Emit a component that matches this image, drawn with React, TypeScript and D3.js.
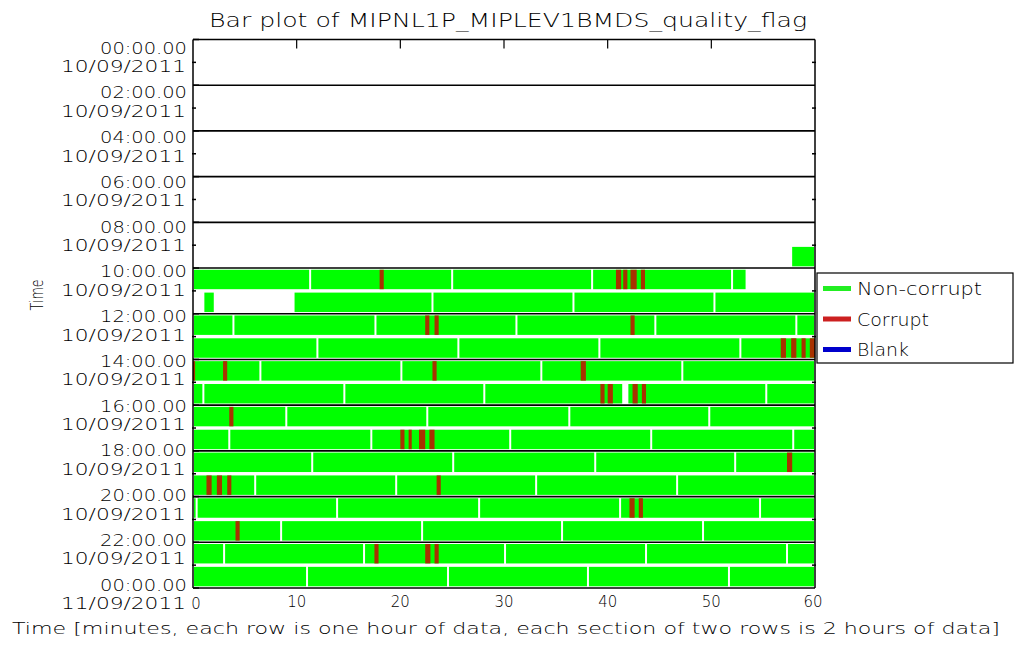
import React from "react";
import * as d3 from "d3";

const title = "Bar plot of MIPNL1P_MIPLEV1BMDS_quality_flag";
const xAxisTitle =
  "Time [minutes, each row is one hour of data, each section of two rows is 2 hours of data]";
const yAxisTitle = "Time";

const xTicks = [0, 10, 20, 30, 40, 50, 60];
const yTickTimes = [
  "00:00.00", "02:00.00", "04:00.00", "06:00.00", "08:00.00", "10:00.00",
  "12:00.00", "14:00.00", "16:00.00", "18:00.00", "20:00.00", "22:00.00", "00:00.00",
];
const yTickDates = [
  "10/09/2011", "10/09/2011", "10/09/2011", "10/09/2011", "10/09/2011", "10/09/2011",
  "10/09/2011", "10/09/2011", "10/09/2011", "10/09/2011", "10/09/2011", "10/09/2011", "11/09/2011",
];

// [hour row, start minute, end minute] : non-corrupt data granules
const nonCorrupt: [number, number, number][] = [
  [9, 57.7, 60],
  [10, 0, 11.3], [10, 11.3, 25.0], [10, 25.0, 38.5], [10, 38.5, 52.0], [10, 52.0, 53.4],
  [11, 1.0, 2.1], [11, 9.7, 23.1], [11, 23.1, 36.7], [11, 36.7, 50.3], [11, 50.3, 60],
  [12, 0, 3.9], [12, 3.9, 17.6], [12, 17.6, 31.2], [12, 31.2, 44.6], [12, 44.6, 58.2], [12, 58.2, 60],
  [13, 0, 12.0], [13, 12.0, 25.6], [13, 25.6, 39.2], [13, 39.2, 52.8], [13, 52.8, 60],
  [14, 0, 6.5], [14, 6.5, 20.1], [14, 20.1, 33.6], [14, 33.6, 47.2], [14, 47.2, 60],
  [15, 0, 1.0], [15, 1.0, 14.6], [15, 14.6, 28.1], [15, 28.1, 41.5], [15, 41.9, 55.3], [15, 55.3, 60],
  [16, 0, 9.0], [16, 9.0, 22.6], [16, 22.6, 36.3], [16, 36.3, 49.8], [16, 49.8, 60],
  [17, 0, 3.5], [17, 3.5, 17.2], [17, 17.2, 30.6], [17, 30.6, 44.2], [17, 44.2, 57.9], [17, 57.9, 60],
  [18, 0, 11.5], [18, 11.5, 25.1], [18, 25.1, 38.8], [18, 38.8, 52.3], [18, 52.3, 60],
  [19, 0, 6.0], [19, 6.0, 19.6], [19, 19.6, 33.1], [19, 33.1, 46.7], [19, 46.7, 60],
  [20, 0, 0.35], [20, 0.35, 13.9], [20, 13.9, 27.6], [20, 27.6, 41.2], [20, 41.2, 54.7], [20, 54.7, 60],
  [21, 0, 8.5], [21, 8.5, 22.1], [21, 22.1, 35.6], [21, 35.6, 49.2], [21, 49.2, 60],
  [22, 0, 3.0], [22, 3.0, 16.5], [22, 16.5, 30.1], [22, 30.1, 43.7], [22, 43.7, 57.3], [22, 57.3, 60],
  [23, 0, 11.0], [23, 11.0, 24.6], [23, 24.6, 38.1], [23, 38.1, 51.7], [23, 51.7, 60],
];

// [hour row, start minute, end minute] : corrupt records
const corrupt: [number, number, number][] = [
  [10, 18.0, 18.4], [10, 40.8, 41.3], [10, 41.5, 41.9], [10, 42.2, 42.8], [10, 43.2, 43.6],
  [12, 22.4, 22.8], [12, 23.3, 23.7], [12, 42.2, 42.6],
  [13, 56.7, 57.2], [13, 57.7, 58.2], [13, 58.7, 59.1], [13, 59.5, 60],
  [14, 0, 0.2], [14, 2.9, 3.3], [14, 23.1, 23.5], [14, 37.4, 37.9],
  [15, 39.3, 39.7], [15, 40.0, 40.5], [15, 42.4, 42.9], [15, 43.3, 43.7],
  [16, 3.5, 3.9],
  [17, 20.0, 20.4], [17, 20.8, 21.1], [17, 21.8, 22.4], [17, 22.8, 23.3],
  [18, 57.3, 57.8],
  [19, 1.3, 1.8], [19, 2.3, 2.8], [19, 3.3, 3.7], [19, 23.5, 23.9],
  [20, 42.1, 42.6], [20, 43.0, 43.4],
  [21, 4.1, 4.5],
  [22, 17.5, 17.9], [22, 22.4, 22.9], [22, 23.3, 23.7],
];

const legendLabels = ["Non-corrupt", "Corrupt", "Blank"];
const legendColors = ["#22ee22", "#cc2020", "#0000cc"];
const legendWidths = [125, 72, 52];

const GREEN = "#00ff00";
const RED = "#a83200";
const FONT = "'DejaVu Sans', sans-serif";
const WEIGHT = 200;

export default function App() {
  const left = 193, right = 815, top = 39.5, bottom = 588;
  const x = d3.scaleLinear().domain([0, 60]).range([left, right]);
  const y = d3.scaleLinear().domain([0, 24]).range([top, bottom]);
  // label centres spread between the first and last tick label positions
  const yLab = d3.scaleLinear().domain([0, 24]).range([48, 585]);
  const rowH = y(1) - y(0);
  const barPad = 1.7;
  const sections = d3.range(0, 25, 2);
  const oddHours = d3.range(1, 24, 2);
  const LF = 15.5;

  return (
    <svg
      width={1016}
      height={664}
      style={{ position: "absolute", left: 0, top: 0, background: "#fff" }}
      fontFamily={FONT}
      fontWeight={WEIGHT}
    >
      <rect x={0} y={0} width={1016} height={664} fill="#fff" />
      <text x={508} y={27} fontSize={19} textAnchor="middle" textLength={598} lengthAdjust="spacingAndGlyphs">
        {title}
      </text>

      {/* data bars */}
      {nonCorrupt.map(([h, s, e], i) => (
        <rect
          key={"g" + i}
          x={x(s) + 1}
          y={y(h) + barPad}
          width={Math.max(0.6, x(e) - x(s) - 2)}
          height={rowH - 2 * barPad}
          fill={GREEN}
        />
      ))}
      {corrupt.map(([h, s, e], i) => (
        <rect
          key={"c" + i}
          x={x(s)}
          y={y(h) + barPad}
          width={x(e) - x(s)}
          height={rowH - 2 * barPad}
          fill={RED}
        />
      ))}

      {/* section lines */}
      {sections.map((h) => (
        <line key={"s" + h} x1={left} x2={right} y1={y(h)} y2={y(h)} stroke="#000" strokeWidth={1.6} />
      ))}
      <line x1={left} x2={left} y1={top} y2={bottom} stroke="#000" strokeWidth={1.5} />
      <line x1={right} x2={right} y1={top} y2={bottom} stroke="#000" strokeWidth={1.5} />

      {/* minor ticks at hour boundaries */}
      {oddHours.map((h) => (
        <g key={"m" + h}>
          <line x1={left - 1} x2={left + 3} y1={y(h)} y2={y(h)} stroke="#000" strokeWidth={1.5} />
          <line x1={right - 3} x2={right + 1} y1={y(h)} y2={y(h)} stroke="#000" strokeWidth={1.5} />
        </g>
      ))}
      {/* left ticks at sections */}
      {sections.map((h) => (
        <line key={"lt" + h} x1={left} x2={left + 6} y1={y(h)} y2={y(h)} stroke="#000" strokeWidth={1.5} />
      ))}

      {/* top ticks */}
      {xTicks.slice(1, -1).map((t) => (
        <line key={"tt" + t} x1={x(t)} x2={x(t)} y1={top} y2={top + 9} stroke="#000" strokeWidth={1.2} />
      ))}

      {/* y tick labels */}
      {sections.map((h, i) => {
        const c = yLab(h);
        return (
          <g key={"yl" + h}>
            <text x={187} y={c + 5.7} fontSize={LF} textAnchor="end" textLength={87} lengthAdjust="spacingAndGlyphs">
              {yTickTimes[i]}
            </text>
            <text x={186} y={c + 24.2} fontSize={LF} textAnchor="end" textLength={125} lengthAdjust="spacingAndGlyphs">
              {yTickDates[i]}
            </text>
          </g>
        );
      })}

      {/* x tick labels */}
      {xTicks.map((t) => {
        const s = String(t);
        const cx = t === 0 ? x(t) + 3 : t === 60 ? x(t) - 2 : x(t);
        const cy = t === 0 ? 609 : 607;
        return (
          <text key={"xl" + t} x={cx} y={cy} fontSize={16} textAnchor="middle" textLength={s.length * 9.5} lengthAdjust="spacingAndGlyphs">
            {s}
          </text>
        );
      })}

      <text x={506} y={634} fontSize={16} textAnchor="middle" textLength={988} lengthAdjust="spacingAndGlyphs">
        {xAxisTitle}
      </text>
      <text
        transform={`translate(43,295) rotate(-90)`}
        fontSize={17}
        textAnchor="middle"
        textLength={31}
        lengthAdjust="spacingAndGlyphs"
      >
        {yAxisTitle}
      </text>

      {/* legend */}
      <rect x={817} y={273} width={196} height={90} fill="#fff" stroke="#000" strokeWidth={1.2} />
      {legendLabels.map((l, i) => {
        const ly = 288.5 + i * 30.5;
        return (
          <g key={"lg" + l}>
            <line x1={823} x2={851} y1={ly} y2={ly} stroke={legendColors[i]} strokeWidth={5} />
            <text x={857} y={ly + 6.5} fontSize={17} textLength={legendWidths[i]} lengthAdjust="spacingAndGlyphs">
              {l}
            </text>
          </g>
        );
      })}
    </svg>
  );
}
